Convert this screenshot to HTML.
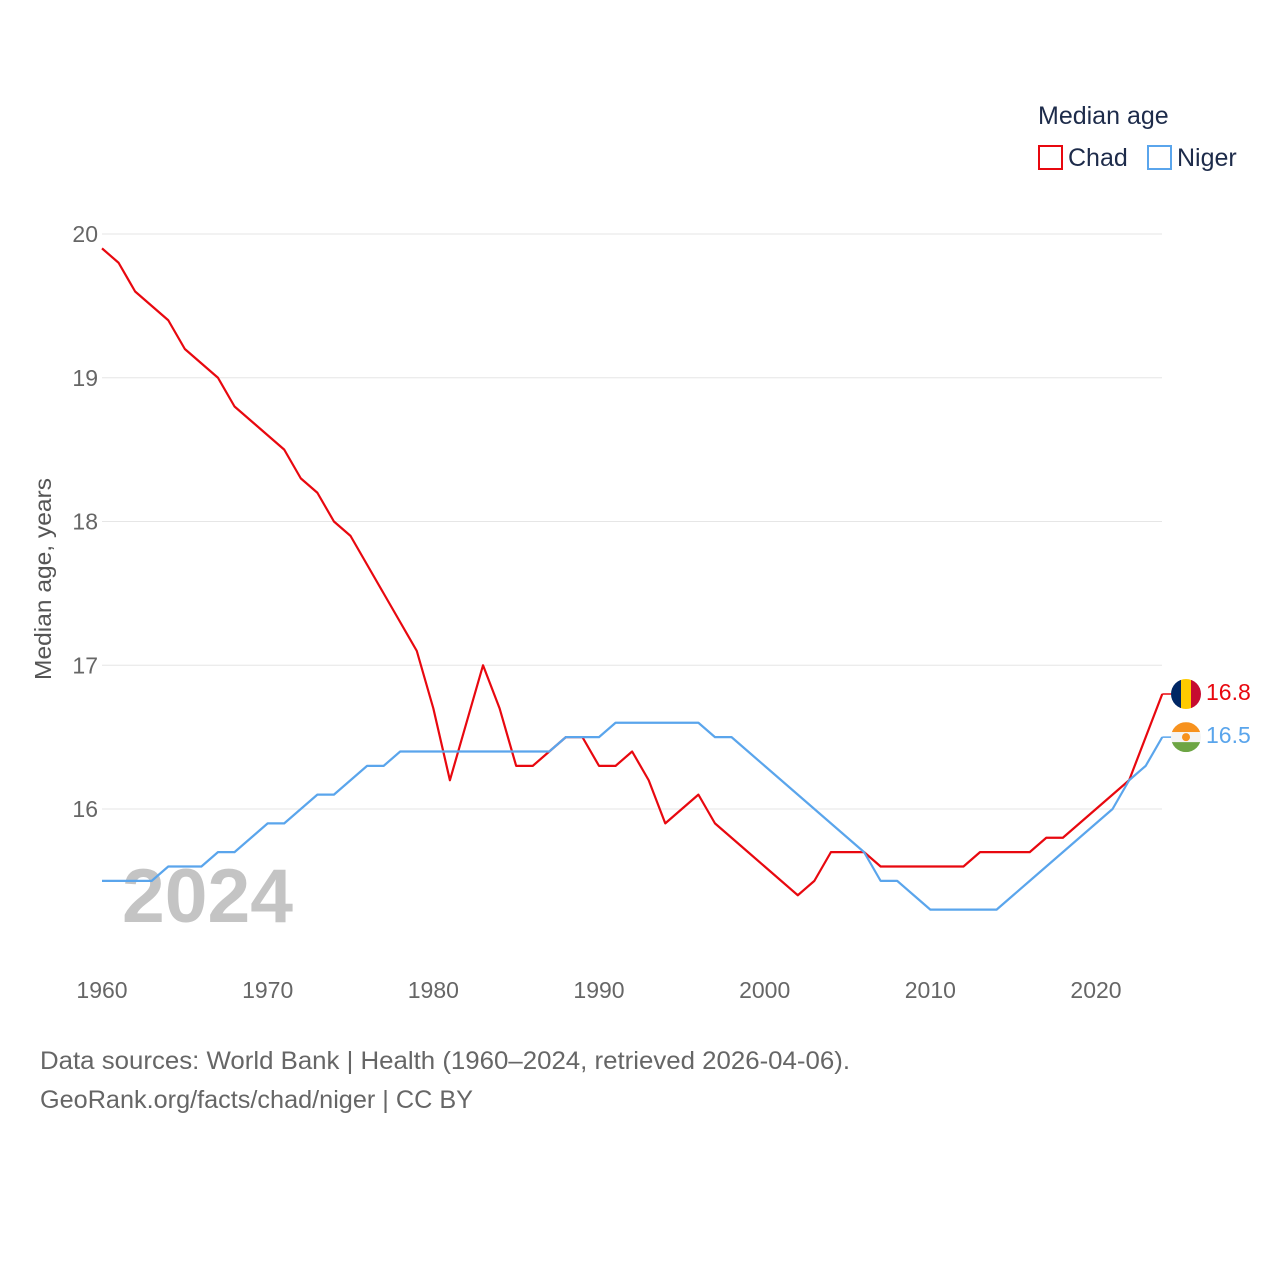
<!DOCTYPE html>
<html><head><meta charset="utf-8"><style>
body{margin:0;background:#fff;font-family:"Liberation Sans",sans-serif}
svg text{font-family:"Liberation Sans",sans-serif}
</style></head><body>
<svg width="1280" height="1280" id="chart">
<text x="1038" y="124" font-size="25" fill="#1d2b4a">Median age</text>
<g><rect x="1039" y="146" width="23" height="23" fill="none" stroke="#e8080f" stroke-width="2"/><text x="1068" y="166" font-size="25" fill="#1d2b4a">Chad</text></g>
<g><rect x="1148" y="146" width="23" height="23" fill="none" stroke="#5aa5ec" stroke-width="2"/><text x="1177" y="166" font-size="25" fill="#1d2b4a">Niger</text></g>
<text transform="translate(51,579) rotate(-90)" text-anchor="middle" font-size="23" fill="#555" textLength="202" lengthAdjust="spacingAndGlyphs">Median age, years</text>
<text x="122" y="922" font-size="76" font-weight="bold" fill="#c4c4c4" textLength="171" lengthAdjust="spacingAndGlyphs">2024</text>
<g id="grid"></g><g id="lines"></g>
<text x="40" y="1069" font-size="25" fill="#666" textLength="810" lengthAdjust="spacingAndGlyphs">Data sources: World Bank | Health (1960–2024, retrieved 2026-04-06).</text>
<text x="40" y="1108" font-size="25" fill="#666" textLength="433" lengthAdjust="spacingAndGlyphs">GeoRank.org/facts/chad/niger | CC BY</text>
</svg>
<script>
const years=[];for(let y=1960;y<=2024;y++)years.push(y);
const chad=[19.9,19.8,19.6,19.5,19.4,19.2,19.1,19.0,18.8,18.7,18.6,18.5,18.3,18.2,18.0,17.9,17.7,17.5,17.3,17.1,16.7,16.2,16.6,17.0,16.7,16.3,16.3,16.4,16.5,16.5,16.3,16.3,16.4,16.2,15.9,16.0,16.1,15.9,15.8,15.7,15.6,15.5,15.4,15.5,15.7,15.7,15.7,15.6,15.6,15.6,15.6,15.6,15.6,15.7,15.7,15.7,15.7,15.8,15.8,15.9,16.0,16.1,16.2,16.5,16.8];
const niger=[15.5,15.5,15.5,15.5,15.6,15.6,15.6,15.7,15.7,15.8,15.9,15.9,16.0,16.1,16.1,16.2,16.3,16.3,16.4,16.4,16.4,16.4,16.4,16.4,16.4,16.4,16.4,16.4,16.5,16.5,16.5,16.6,16.6,16.6,16.6,16.6,16.6,16.5,16.5,16.4,16.3,16.2,16.1,16.0,15.9,15.8,15.7,15.5,15.5,15.4,15.3,15.3,15.3,15.3,15.3,15.4,15.5,15.6,15.7,15.8,15.9,16.0,16.2,16.3,16.5];
const yTicks=[16,17,18,19,20];
const xTicks=[1960,1970,1980,1990,2000,2010,2020];
const X=y=>102+(y-1960)*(1096-102)/60;
const Y=v=>809-(v-16)*143.75;
const NS='http://www.w3.org/2000/svg';
function mk(t,a,p){const e=document.createElementNS(NS,t);for(const k in a)e.setAttribute(k,a[k]);p.appendChild(e);return e;}
const g=document.getElementById('grid'),L=document.getElementById('lines');
yTicks.forEach(v=>{
 const l=mk('line',{x1:102,x2:1162,y1:Y(v),y2:Y(v),stroke:'#e6e6e6'},g);
 
 
 const t=mk('text',{x:98,y:Y(v)+8,'text-anchor':'end','font-size':23,fill:'#666'},g);t.textContent=v;
 
 
});
xTicks.forEach(v=>{
 const t=mk('text',{x:X(v),y:998,'text-anchor':'middle','font-size':23,fill:'#666'},g);t.textContent=v;
 
 
});
function series(d,c,name){
 const p=mk('polyline',{points:d.map((v,i)=>X(years[i])+','+Y(v)).join(' '),fill:'none',stroke:c,'stroke-width':2.2,'stroke-linejoin':'round'},L);
 
 
 const last=d[d.length-1],yy=Y(last);
 mk('line',{x1:X(2024),x2:1172,y1:yy,y2:yy,stroke:c,'stroke-width':1.5},L);
 const t=mk('text',{x:1206,y:yy+6,'font-size':23,fill:c},L);t.textContent=last.toFixed(1);
 
 
 return yy;
}
const cy=series(chad,'#e8080f','chad');
const ny=series(niger,'#5aa5ec','niger');
const fc=mk('g',{},L);
const cp1=mk('clipPath',{id:'c1'},fc);mk('circle',{cx:1186,cy:cy,r:15},cp1);
mk('rect',{x:1171,y:cy-15,width:10,height:30,fill:'#002664','clip-path':'url(#c1)'},fc);
mk('rect',{x:1181,y:cy-15,width:10,height:30,fill:'#fecb00','clip-path':'url(#c1)'},fc);
mk('rect',{x:1191,y:cy-15,width:10,height:30,fill:'#c60c30','clip-path':'url(#c1)'},fc);
const fn=mk('g',{},L);
const cp=mk('clipPath',{id:'c2'},fn);mk('circle',{cx:1186,cy:ny,r:15},cp);
mk('rect',{x:1171,y:ny-15,width:30,height:10,fill:'#f7921e','clip-path':'url(#c2)'},fn);
mk('rect',{x:1171,y:ny-5,width:30,height:10,fill:'#f4f4f4','clip-path':'url(#c2)'},fn);
mk('rect',{x:1171,y:ny+5,width:30,height:10,fill:'#6da544','clip-path':'url(#c2)'},fn);
mk('circle',{cx:1186,cy:ny,r:4,fill:'#f7921e'},fn);
</script>
</body></html>
